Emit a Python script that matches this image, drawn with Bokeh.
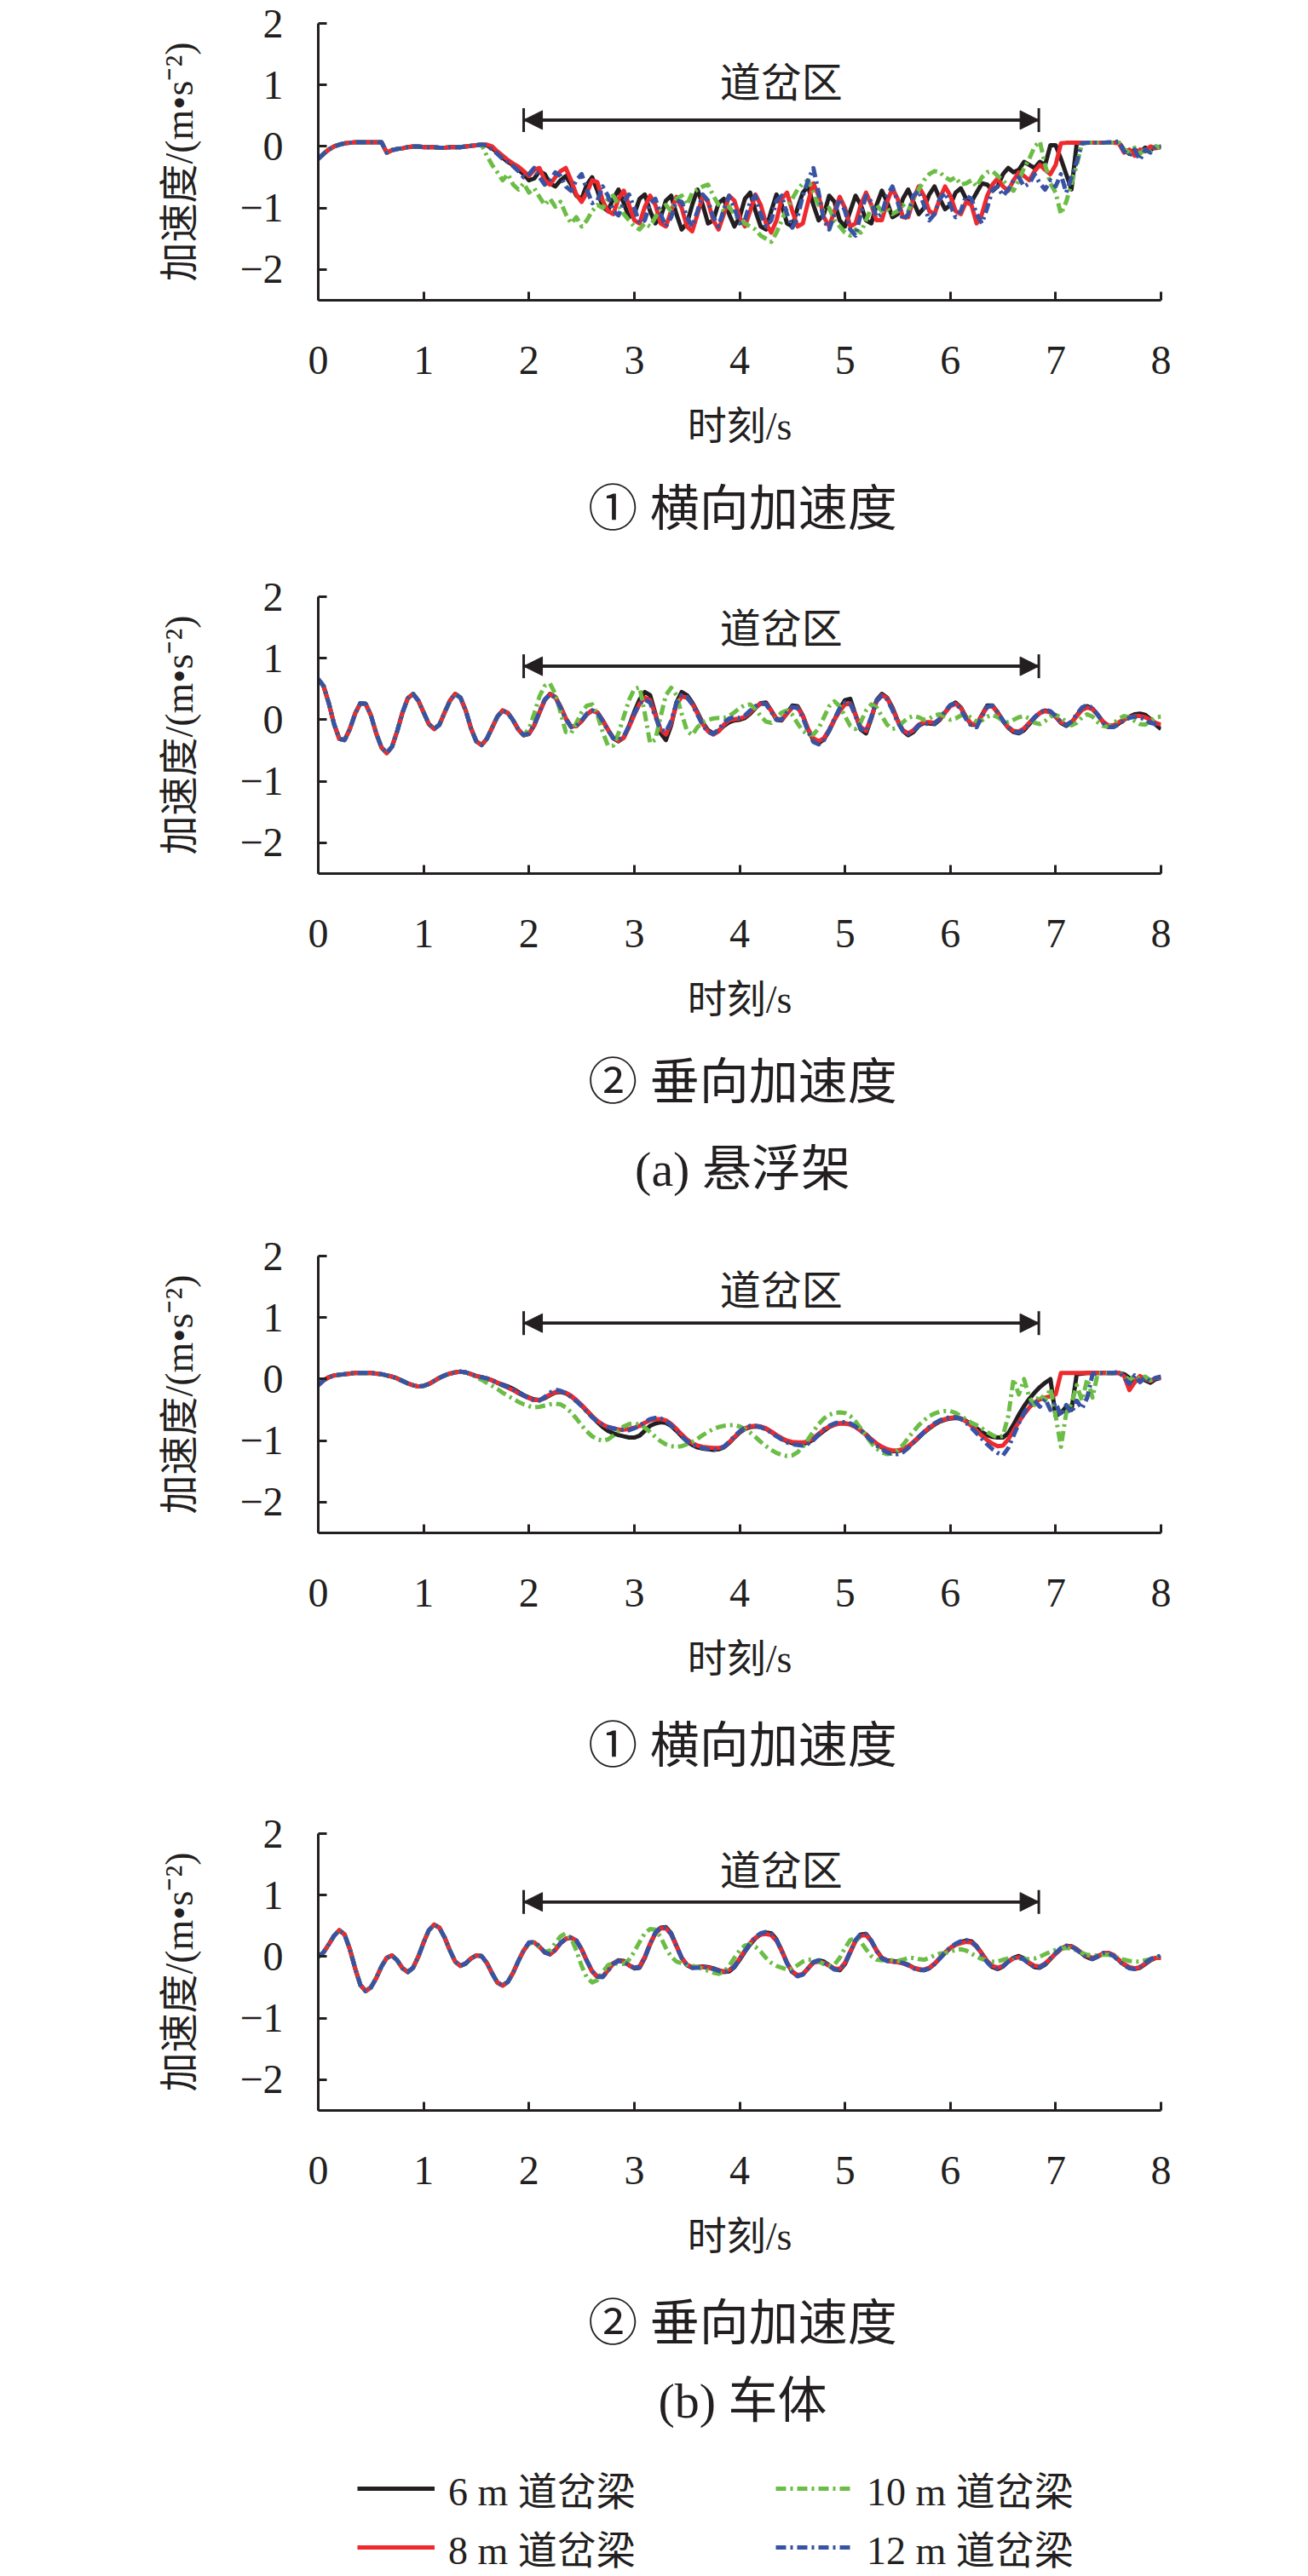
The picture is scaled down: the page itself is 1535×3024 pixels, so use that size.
from bokeh.plotting import figure
from bokeh.layouts import column
from bokeh.models import (Range1d, Label, Arrow, NormalHead, TeeHead, Legend,
                          LegendItem, FixedTicker)
from bokeh.embed import file_html
from bokeh.resources import INLINE

FONT = "Liberation Serif, Noto Sans CJK SC"
INK = "#231f20"
W = 1519
DT = 0.05

SERIES_NAMES = ["6 m 道岔梁", "8 m 道岔梁", "10 m 道岔梁", "12 m 道岔梁"]
X_TICKS = [0, 1, 2, 3, 4, 5, 6, 7, 8]
Y_TICKS = [-2, -1, 0, 1, 2]
Y_TICK_LABELS = {-2: "\u22122", -1: "\u22121", 0: "0", 1: "1", 2: "2"}
ZONE_START, ZONE_END = 1.95, 6.84
ZONE_TEXT = "道岔区"
X_TITLE = "时刻/s"
Y_TITLE = "加速度/(m•s⁻²)"
CAP_LAT = "① 横向加速度"
CAP_VER = "② 垂向加速度"
CAP_A = "(a) 悬浮架"
CAP_B = "(b) 车体"

# ---------------- (a) suspension frame, lateral ----------------
A1_PRE = [-0.20, -0.12, -0.05, 0.00, 0.03, 0.05, 0.06, 0.07, 0.07, 0.07,
          0.07, 0.07, 0.07, -0.10, -0.06, -0.04, -0.03, -0.01, 0.00, 0.00,
          -0.01, -0.01, -0.01, -0.02, -0.02, -0.01, -0.01, -0.01, 0.00, 0.01,
          0.02, 0.03]
A1_6 = [0.02, -0.03, -0.10, -0.18, -0.25, -0.30, -0.38, -0.45, -0.55, -0.52,
        -0.40, -0.45, -0.60, -0.65, -0.55, -0.48, -0.62, -0.80, -0.85, -0.62,
        -0.50, -0.72, -0.98, -1.05, -0.85, -0.70, -0.92, -1.15, -1.10, -0.85,
        -0.78, -1.05, -1.25, -1.15, -0.88, -0.80, -1.10, -1.35, -1.25, -0.95,
        -0.70, -0.95, -1.25, -1.20, -0.92, -0.85, -1.10, -1.30, -1.15, -0.85,
        -0.75, -1.05, -1.30, -1.35, -1.05, -0.78, -0.95, -1.25, -1.30, -1.00,
        -0.75, -0.65, -0.95, -1.20, -1.10, -0.80, -0.90, -1.20, -1.30, -1.05,
        -0.80, -0.95, -1.20, -1.25, -0.95, -0.72, -0.90, -1.15, -1.10, -0.85,
        -0.70, -0.90, -1.10, -1.00, -0.78, -0.65, -0.85, -1.02, -0.95, -0.75,
        -0.68, -0.85, -0.90, -0.75, -0.60, -0.62, -0.72, -0.65, -0.45, -0.35,
        -0.42, -0.38, -0.25, -0.30, -0.35, -0.25, -0.30, 0.02, 0.02, -0.20,
        -0.45, -0.70, 0.05, 0.06, 0.06, 0.06, 0.06, 0.06, 0.06, 0.06,
        0.06, -0.05, -0.12, -0.05, -0.10, -0.02, -0.06, 0.00, -0.02]
A1_8 = [0.03, 0.00, -0.08, -0.15, -0.22, -0.28, -0.33, -0.40, -0.48, -0.38,
        -0.35, -0.55, -0.62, -0.50, -0.40, -0.35, -0.55, -0.78, -0.90, -0.75,
        -0.55, -0.58, -0.88, -1.05, -1.10, -0.85, -0.72, -0.95, -1.20, -1.25,
        -0.98, -0.80, -0.95, -1.25, -1.30, -1.05, -0.82, -1.00, -1.30, -1.38,
        -1.10, -0.80, -0.90, -1.20, -1.35, -1.10, -0.80, -0.88, -1.15, -1.30,
        -1.05, -0.78, -0.95, -1.25, -1.40, -1.20, -0.85, -0.75, -1.05, -1.30,
        -1.25, -0.90, -0.60, -0.80, -1.15, -1.30, -1.05, -0.82, -1.00, -1.30,
        -1.25, -0.95, -0.75, -0.95, -1.20, -1.20, -0.90, -0.68, -0.85, -1.15,
        -1.15, -0.85, -0.65, -0.80, -1.05, -1.10, -0.85, -0.65, -0.80, -1.05,
        -1.10, -0.90, -0.95, -1.25, -1.10, -0.80, -0.62, -0.52, -0.65, -0.72,
        -0.55, -0.42, -0.48, -0.55, -0.40, -0.30, -0.38, -0.45, -0.30, 0.05,
        0.06, 0.06, 0.06, 0.06, 0.06, 0.06, 0.06, 0.06, 0.06, 0.06,
        0.05, -0.10, -0.05, -0.15, -0.05, -0.08, 0.00, -0.03, 0.00]
A1_10 = [-0.15, -0.30, -0.42, -0.55, -0.45, -0.62, -0.70, -0.60, -0.75, -0.68,
         -0.82, -0.95, -0.85, -0.98, -0.90, -1.10, -1.25, -1.15, -1.30, -1.20,
         -1.05, -0.95, -1.00, -0.85, -0.80, -0.95, -1.10, -1.20, -1.30, -1.35,
         -1.25, -1.30, -1.15, -1.00, -0.95, -1.05, -0.85, -0.80, -0.95, -0.75,
         -0.70, -0.65, -0.62, -0.80, -0.95, -1.05, -0.98, -1.10, -1.20, -1.25,
         -1.30, -1.35, -1.45, -1.50, -1.55, -1.40, -1.20, -1.00, -0.85, -0.70,
         -0.60, -0.55, -0.75, -0.95, -1.05, -1.00, -1.20, -1.30, -1.40, -1.45,
         -1.35, -1.40, -1.20, -1.00, -0.95, -1.05, -1.00, -1.10, -1.05, -0.95,
         -1.05, -0.85, -0.70, -0.55, -0.45, -0.40, -0.42, -0.50, -0.55, -0.50,
         -0.62, -0.60, -0.55, -0.65, -0.50, -0.42, -0.40, -0.48, -0.55, -0.65,
         -0.72, -0.55, -0.35, -0.20, 0.00, 0.08, -0.30, -0.60, -0.75, -1.10,
         -0.90, -0.60, -0.30, 0.05, 0.06, 0.06, 0.06, 0.06, 0.06, 0.06,
         0.06, -0.05, -0.10, -0.02, -0.12, -0.05, -0.08, 0.00, -0.02]
A1_12 = [0.02, -0.05, -0.12, -0.20, -0.25, -0.32, -0.40, -0.50, -0.45, -0.35,
         -0.50, -0.62, -0.55, -0.42, -0.48, -0.65, -0.72, -0.55, -0.45, -0.70,
         -0.92, -0.88, -0.65, -0.80, -1.05, -1.12, -0.90, -0.78, -1.00, -1.25,
         -1.20, -0.92, -0.85, -1.10, -1.30, -1.15, -0.88, -0.90, -1.15, -1.30,
         -1.05, -0.78, -0.88, -1.15, -1.30, -1.02, -0.80, -1.00, -1.25, -1.20,
         -0.90, -0.80, -1.10, -1.30, -1.20, -0.88, -0.80, -1.10, -1.32, -1.15,
         -0.80, -0.55, -0.35, -0.75, -1.20, -1.35, -1.10, -0.85, -1.05, -1.35,
         -1.45, -1.10, -0.80, -0.90, -1.15, -1.10, -0.80, -0.65, -0.90, -1.20,
         -1.10, -0.80, -0.72, -0.95, -1.20, -1.10, -0.85, -0.75, -0.95, -1.15,
         -1.05, -0.80, -0.85, -1.10, -1.25, -1.00, -0.70, -0.65, -0.80, -0.70,
         -0.55, -0.50, -0.65, -0.60, -0.45, -0.60, -0.70, -0.55, -0.65, -0.45,
         -0.75, -0.50, -0.25, 0.05, 0.06, 0.06, 0.06, 0.06, 0.07, 0.07,
         0.08, -0.08, -0.15, -0.05, -0.22, -0.05, -0.10, 0.00, 0.00]

# ---------------- (a) suspension frame, vertical ----------------
A2_PRE = [0.66, 0.55, 0.27, -0.07, -0.31, -0.33, -0.15, 0.10, 0.27, 0.26,
          0.07, -0.22, -0.45, -0.54, -0.44, -0.18, 0.12, 0.35, 0.42, 0.31,
          0.12, -0.07, -0.15, -0.08, 0.12, 0.31, 0.42, 0.36, 0.15, -0.14,
          -0.35, -0.41, -0.31, -0.13, 0.05, 0.15, 0.11, -0.01, -0.16, -0.25]
A2_6 = [-0.23, -0.09, 0.12, 0.32, 0.42, 0.37, 0.21, 0.02, -0.11, -0.10,
        -0.02, 0.09, 0.15, 0.12, -0.01, -0.16, -0.30, -0.35, -0.29, -0.10,
        0.13, 0.33, 0.45, 0.40, 0.10, -0.22, -0.33, -0.09, 0.28, 0.45,
        0.40, 0.28, 0.12, -0.05, -0.17, -0.22, -0.18, -0.10, -0.04, -0.01,
        0.00, 0.03, 0.10, 0.19, 0.27, 0.28, 0.15, 0.00, -0.01, 0.11,
        0.23, 0.22, 0.07, -0.16, -0.33, -0.38, -0.32, -0.18, 0.00, 0.18,
        0.32, 0.34, 0.08, -0.16, -0.22, 0.02, 0.32, 0.42, 0.36, 0.20,
        -0.01, -0.18, -0.25, -0.20, -0.10, -0.05, -0.06, -0.07, 0.00, 0.12,
        0.23, 0.28, 0.20, 0.04, -0.08, -0.08, 0.08, 0.23, 0.23, 0.12,
        -0.02, -0.13, -0.20, -0.22, -0.17, -0.07, 0.03, 0.11, 0.15, 0.13,
        0.05, -0.05, -0.10, -0.05, 0.07, 0.18, 0.22, 0.18, 0.08, -0.04,
        -0.11, -0.11, -0.06, 0.00, 0.05, 0.09, 0.10, 0.08, 0.01, -0.08,
        -0.15]
A2_8 = [-0.23, -0.09, 0.12, 0.32, 0.41, 0.37, 0.21, 0.02, -0.11, -0.10,
        -0.02, 0.09, 0.15, 0.12, -0.01, -0.16, -0.29, -0.34, -0.29, -0.12,
        0.08, 0.26, 0.36, 0.32, 0.08, -0.16, -0.24, -0.06, 0.24, 0.38,
        0.36, 0.26, 0.10, -0.07, -0.19, -0.24, -0.19, -0.08, -0.01, 0.01,
        0.02, 0.05, 0.12, 0.20, 0.26, 0.26, 0.15, 0.02, 0.00, 0.10,
        0.20, 0.20, 0.06, -0.15, -0.30, -0.35, -0.30, -0.16, 0.00, 0.14,
        0.25, 0.26, 0.08, -0.12, -0.18, 0.04, 0.30, 0.40, 0.35, 0.18,
        -0.02, -0.17, -0.22, -0.17, -0.08, -0.04, -0.04, -0.05, 0.01, 0.12,
        0.22, 0.26, 0.19, 0.04, -0.07, -0.07, 0.07, 0.21, 0.22, 0.11,
        -0.02, -0.12, -0.18, -0.19, -0.14, -0.05, 0.04, 0.11, 0.14, 0.12,
        0.05, -0.04, -0.08, -0.04, 0.06, 0.16, 0.20, 0.17, 0.08, -0.03,
        -0.09, -0.09, -0.04, 0.01, 0.04, 0.06, 0.06, 0.04, 0.00, -0.05,
        -0.08]
A2_10 = [-0.15, 0.10, 0.38, 0.55, 0.59, 0.42, 0.12, -0.20, -0.22, -0.05,
         0.12, 0.23, 0.25, 0.08, -0.20, -0.42, -0.42, -0.22, 0.05, 0.32,
         0.50, 0.53, 0.10, -0.38, -0.32, 0.05, 0.40, 0.52, 0.40, 0.10,
         -0.18, -0.25, -0.12, -0.04, 0.00, 0.02, 0.03, 0.03, 0.06, 0.12,
         0.19, 0.24, 0.25, 0.18, 0.06, -0.03, -0.05, 0.03, 0.12, 0.15,
         0.08, -0.06, -0.18, -0.24, -0.24, -0.14, 0.04, 0.22, 0.30, 0.22,
         0.06, -0.10, -0.15, -0.04, 0.15, 0.25, 0.20, 0.06, -0.08, -0.15,
         -0.13, -0.04, 0.03, 0.06, 0.04, 0.00, 0.02, 0.07, 0.09, 0.05,
         0.00, 0.02, 0.07, 0.08, 0.03, -0.03, -0.01, 0.05, 0.08, 0.04,
         -0.02, -0.04, 0.00, 0.04, 0.06, 0.02, -0.05, -0.07, -0.02, 0.05,
         0.08, 0.04, -0.04, -0.09, -0.05, 0.04, 0.09, 0.05, -0.04, -0.10,
         -0.12, -0.06, 0.02, 0.06, 0.04, -0.02, -0.07, -0.08, -0.02, 0.04,
         0.05]
A2_12 = [-0.22, -0.08, 0.13, 0.33, 0.41, 0.36, 0.20, 0.01, -0.12, -0.10,
         -0.01, 0.10, 0.15, 0.11, -0.02, -0.17, -0.30, -0.33, -0.27, -0.10,
         0.10, 0.26, 0.33, 0.28, 0.05, -0.15, -0.20, -0.02, 0.27, 0.40,
         0.37, 0.25, 0.08, -0.09, -0.20, -0.23, -0.16, -0.05, 0.02, 0.04,
         0.03, 0.07, 0.15, 0.22, 0.27, 0.25, 0.13, 0.00, 0.01, 0.12,
         0.21, 0.19, 0.03, -0.19, -0.36, -0.40, -0.33, -0.17, 0.02, 0.18,
         0.28, 0.27, 0.06, -0.15, -0.19, 0.05, 0.31, 0.39, 0.33, 0.16,
         -0.04, -0.18, -0.23, -0.18, -0.09, -0.06, -0.07, -0.06, 0.02, 0.14,
         0.24, 0.27, 0.17, 0.01, -0.10, -0.12, 0.05, 0.21, 0.23, 0.12,
         -0.01, -0.12, -0.19, -0.21, -0.16, -0.06, 0.04, 0.12, 0.16, 0.14,
         0.06, -0.04, -0.09, -0.03, 0.09, 0.20, 0.24, 0.19, 0.08, -0.05,
         -0.12, -0.12, -0.07, -0.01, 0.03, 0.05, 0.04, 0.00, -0.05, -0.07,
         -0.06]

# ---------------- (b) car body, lateral ----------------
B1_PRE = [-0.10, -0.02, 0.03, 0.06, 0.07, 0.08, 0.09, 0.10, 0.10, 0.10,
          0.10, 0.09, 0.08, 0.06, 0.04, 0.01, -0.03, -0.07, -0.10, -0.12,
          -0.11, -0.08, -0.03, 0.02, 0.06, 0.09, 0.11, 0.12, 0.11, 0.08]
B1_6 = [0.05, 0.03, 0.01, -0.02, -0.06, -0.09, -0.12, -0.16, -0.21, -0.26,
        -0.30, -0.33, -0.34, -0.31, -0.26, -0.22, -0.21, -0.23, -0.28, -0.35,
        -0.43, -0.52, -0.61, -0.70, -0.78, -0.84, -0.88, -0.91, -0.93, -0.95,
        -0.95, -0.92, -0.84, -0.76, -0.72, -0.70, -0.71, -0.76, -0.84, -0.93,
        -1.01, -1.07, -1.11, -1.13, -1.14, -1.15, -1.14, -1.11, -1.04, -0.95,
        -0.87, -0.81, -0.78, -0.77, -0.78, -0.81, -0.86, -0.92, -0.97, -1.01,
        -1.04, -1.05, -1.05, -1.03, -0.98, -0.91, -0.84, -0.78, -0.74, -0.72,
        -0.72, -0.73, -0.77, -0.83, -0.90, -0.98, -1.05, -1.11, -1.15, -1.17,
        -1.17, -1.15, -1.10, -1.03, -0.95, -0.87, -0.80, -0.74, -0.69, -0.66,
        -0.64, -0.63, -0.64, -0.68, -0.74, -0.80, -0.86, -0.91, -0.94, -0.95,
        -0.95, -0.88, -0.74, -0.58, -0.44, -0.32, -0.22, -0.13, -0.06, 0.00,
        -0.60, -0.55, -0.45, -0.50, 0.08, 0.09, 0.10, 0.10, 0.10, 0.10,
        0.10, 0.10, 0.10, 0.08, 0.02, -0.05, 0.04, -0.02, -0.06, 0.00,
        0.02]
B1_8 = [0.05, 0.03, 0.01, -0.02, -0.06, -0.10, -0.14, -0.18, -0.23, -0.27,
        -0.31, -0.34, -0.34, -0.30, -0.25, -0.21, -0.20, -0.22, -0.27, -0.34,
        -0.42, -0.51, -0.60, -0.68, -0.74, -0.78, -0.80, -0.82, -0.82, -0.81,
        -0.79, -0.76, -0.71, -0.67, -0.65, -0.65, -0.67, -0.73, -0.81, -0.90,
        -0.98, -1.04, -1.08, -1.10, -1.11, -1.12, -1.12, -1.10, -1.03, -0.94,
        -0.86, -0.80, -0.77, -0.76, -0.77, -0.80, -0.85, -0.91, -0.96, -1.00,
        -1.02, -1.03, -1.03, -1.01, -0.96, -0.89, -0.82, -0.77, -0.74, -0.72,
        -0.72, -0.74, -0.78, -0.84, -0.91, -0.98, -1.05, -1.10, -1.14, -1.16,
        -1.16, -1.14, -1.09, -1.02, -0.94, -0.86, -0.79, -0.73, -0.68, -0.65,
        -0.63, -0.62, -0.64, -0.69, -0.76, -0.84, -0.92, -0.99, -1.05, -1.09,
        -1.08, -0.98, -0.84, -0.70, -0.57, -0.46, -0.38, -0.33, -0.30, -0.28,
        -0.25, 0.10, 0.10, 0.10, 0.10, 0.10, 0.10, 0.10, 0.10, 0.10,
        0.10, 0.10, 0.10, 0.05, -0.18, -0.05, 0.05, 0.00, -0.03, 0.02,
        0.02]
B1_10 = [0.03, -0.01, -0.06, -0.11, -0.16, -0.22, -0.27, -0.32, -0.37, -0.41,
         -0.44, -0.46, -0.45, -0.43, -0.41, -0.40, -0.41, -0.46, -0.54, -0.64,
         -0.75, -0.85, -0.93, -0.98, -1.00, -0.98, -0.92, -0.84, -0.77, -0.73,
         -0.72, -0.74, -0.79, -0.86, -0.94, -1.01, -1.06, -1.09, -1.10, -1.09,
         -1.06, -1.02, -0.97, -0.91, -0.86, -0.81, -0.78, -0.76, -0.75, -0.75,
         -0.77, -0.81, -0.87, -0.94, -1.02, -1.09, -1.15, -1.20, -1.23, -1.25,
         -1.24, -1.19, -1.10, -0.98, -0.85, -0.73, -0.64, -0.58, -0.55, -0.54,
         -0.55, -0.60, -0.69, -0.80, -0.92, -1.04, -1.13, -1.19, -1.22, -1.21,
         -1.16, -1.07, -0.96, -0.85, -0.75, -0.67, -0.60, -0.56, -0.53, -0.52,
         -0.52, -0.55, -0.60, -0.66, -0.71, -0.75, -0.80, -0.86, -0.91, -0.95,
         -0.92, -0.60, 0.00, -0.25, 0.00, -0.30, -0.42, -0.25, -0.35, -0.15,
         -0.60, -1.10, -0.55, -0.40, -0.10, -0.35, 0.00, -0.30, 0.10, 0.10,
         0.10, 0.10, 0.10, 0.06, -0.02, 0.05, 0.00, 0.04, -0.02, 0.02,
         0.02]
B1_12 = [0.05, 0.03, 0.01, -0.02, -0.06, -0.10, -0.13, -0.17, -0.22, -0.27,
         -0.31, -0.35, -0.35, -0.29, -0.22, -0.17, -0.19, -0.23, -0.29, -0.36,
         -0.44, -0.53, -0.62, -0.69, -0.74, -0.78, -0.80, -0.82, -0.83, -0.83,
         -0.80, -0.76, -0.70, -0.65, -0.63, -0.64, -0.68, -0.75, -0.84, -0.93,
         -1.01, -1.06, -1.10, -1.12, -1.14, -1.15, -1.14, -1.10, -1.02, -0.93,
         -0.85, -0.79, -0.76, -0.76, -0.78, -0.82, -0.87, -0.93, -0.98, -1.03,
         -1.06, -1.07, -1.08, -1.05, -0.99, -0.90, -0.82, -0.76, -0.72, -0.70,
         -0.70, -0.72, -0.77, -0.84, -0.92, -1.00, -1.08, -1.14, -1.19, -1.22,
         -1.22, -1.19, -1.12, -1.03, -0.94, -0.86, -0.78, -0.72, -0.67, -0.64,
         -0.62, -0.62, -0.65, -0.71, -0.79, -0.88, -0.97, -1.06, -1.14, -1.20,
         -1.24, -1.12, -0.92, -0.72, -0.55, -0.42, -0.35, -0.45, -0.32, -0.50,
         -0.38, -0.60, -0.42, -0.55, -0.35, -0.48, -0.30, 0.08, 0.10, 0.10,
         0.10, 0.10, 0.12, 0.02, -0.08, 0.06, -0.05, 0.03, -0.04, 0.02,
         0.04]

# ---------------- (b) car body, vertical ----------------
B2_PRE = [0.00, 0.07, 0.20, 0.34, 0.43, 0.36, 0.12, -0.19, -0.46, -0.56,
          -0.50, -0.35, -0.16, -0.02, 0.02, -0.06, -0.19, -0.25, -0.18, 0.00,
          0.23, 0.43, 0.52, 0.47, 0.31, 0.10, -0.08, -0.15, -0.11, -0.03,
          0.02, 0.01, -0.10, -0.27, -0.42, -0.47, -0.41, -0.26, -0.07, 0.10]
B2_6 = [0.22, 0.23, 0.16, 0.07, 0.04, 0.11, 0.22, 0.29, 0.31, 0.26,
        0.12, -0.07, -0.24, -0.33, -0.33, -0.22, -0.11, -0.06, -0.07, -0.14,
        -0.19, -0.18, -0.02, 0.20, 0.38, 0.47, 0.48, 0.38, 0.18, -0.02,
        -0.14, -0.18, -0.17, -0.16, -0.17, -0.19, -0.22, -0.25, -0.24, -0.17,
        -0.05, 0.08, 0.20, 0.30, 0.36, 0.39, 0.38, 0.28, 0.10, -0.10,
        -0.25, -0.31, -0.29, -0.19, -0.09, -0.06, -0.08, -0.14, -0.20, -0.22,
        -0.12, 0.07, 0.26, 0.36, 0.37, 0.26, 0.10, -0.02, -0.06, -0.07,
        -0.08, -0.10, -0.13, -0.18, -0.21, -0.22, -0.19, -0.12, -0.03, 0.06,
        0.14, 0.20, 0.24, 0.26, 0.25, 0.17, 0.05, -0.08, -0.17, -0.20,
        -0.16, -0.08, -0.02, 0.01, -0.03, -0.11, -0.17, -0.18, -0.13, -0.04,
        0.05, 0.13, 0.17, 0.17, 0.12, 0.05, -0.01, -0.04, 0.00, 0.05,
        0.06, 0.02, -0.06, -0.13, -0.18, -0.20, -0.18, -0.12, -0.06, -0.02,
        -0.01]
B2_8 = [0.22, 0.23, 0.16, 0.07, 0.04, 0.11, 0.22, 0.29, 0.31, 0.26,
        0.12, -0.07, -0.24, -0.32, -0.32, -0.22, -0.11, -0.07, -0.08, -0.14,
        -0.18, -0.16, 0.00, 0.21, 0.38, 0.46, 0.46, 0.36, 0.17, -0.02,
        -0.13, -0.17, -0.17, -0.17, -0.18, -0.20, -0.22, -0.24, -0.22, -0.15,
        -0.03, 0.10, 0.22, 0.31, 0.36, 0.37, 0.35, 0.26, 0.09, -0.10,
        -0.24, -0.30, -0.28, -0.19, -0.10, -0.08, -0.10, -0.15, -0.19, -0.20,
        -0.10, 0.08, 0.25, 0.34, 0.35, 0.25, 0.10, -0.02, -0.07, -0.08,
        -0.09, -0.11, -0.14, -0.18, -0.20, -0.21, -0.18, -0.11, -0.02, 0.07,
        0.14, 0.19, 0.22, 0.24, 0.23, 0.16, 0.05, -0.07, -0.15, -0.18,
        -0.15, -0.08, -0.03, -0.01, -0.04, -0.10, -0.15, -0.16, -0.11, -0.03,
        0.05, 0.12, 0.16, 0.16, 0.12, 0.06, 0.01, -0.02, 0.01, 0.05,
        0.06, 0.03, -0.05, -0.12, -0.17, -0.19, -0.17, -0.11, -0.05, -0.02,
        -0.02]
B2_10 = [0.22, 0.23, 0.15, 0.08, 0.10, 0.22, 0.33, 0.38, 0.30, 0.10,
         -0.15, -0.34, -0.42, -0.38, -0.25, -0.14, -0.10, -0.12, -0.12, -0.05,
         0.08, 0.24, 0.38, 0.45, 0.44, 0.32, 0.14, 0.00, -0.08, -0.11,
         -0.13, -0.15, -0.17, -0.20, -0.23, -0.26, -0.28, -0.25, -0.15, -0.02,
         0.10, 0.18, 0.20, 0.16, 0.08, -0.02, -0.10, -0.15, -0.18, -0.21,
         -0.20, -0.14, -0.08, -0.05, -0.05, -0.08, -0.12, -0.15, -0.13, -0.02,
         0.14, 0.27, 0.30, 0.24, 0.12, 0.01, -0.05, -0.06, -0.05, -0.06,
         -0.07, -0.05, -0.02, -0.02, -0.04, -0.05, -0.02, 0.02, 0.05, 0.06,
         0.08, 0.11, 0.12, 0.10, 0.05, 0.00, -0.04, -0.06, -0.08, -0.08,
         -0.05, -0.03, -0.02, -0.03, -0.04, -0.04, -0.03, 0.00, 0.04, 0.08,
         0.11, 0.13, 0.14, 0.13, 0.10, 0.06, 0.03, 0.02, 0.02, 0.03,
         0.03, 0.01, -0.02, -0.05, -0.07, -0.08, -0.08, -0.06, -0.04, -0.01,
         0.01]
B2_12 = [0.23, 0.24, 0.17, 0.07, 0.04, 0.11, 0.22, 0.29, 0.31, 0.26,
         0.12, -0.07, -0.23, -0.32, -0.33, -0.23, -0.12, -0.07, -0.08, -0.14,
         -0.18, -0.17, -0.01, 0.21, 0.39, 0.48, 0.47, 0.37, 0.17, -0.02,
         -0.14, -0.18, -0.18, -0.17, -0.18, -0.20, -0.23, -0.25, -0.23, -0.16,
         -0.04, 0.09, 0.22, 0.32, 0.38, 0.40, 0.37, 0.27, 0.09, -0.11,
         -0.26, -0.32, -0.29, -0.19, -0.09, -0.06, -0.09, -0.15, -0.21, -0.22,
         -0.11, 0.08, 0.27, 0.37, 0.37, 0.26, 0.09, -0.03, -0.07, -0.08,
         -0.09, -0.10, -0.14, -0.19, -0.22, -0.22, -0.19, -0.12, -0.03, 0.07,
         0.15, 0.21, 0.25, 0.27, 0.25, 0.16, 0.03, -0.09, -0.18, -0.20,
         -0.16, -0.08, -0.02, 0.00, -0.05, -0.12, -0.17, -0.17, -0.12, -0.03,
         0.06, 0.14, 0.18, 0.17, 0.11, 0.04, -0.02, -0.04, 0.01, 0.06,
         0.06, 0.01, -0.07, -0.14, -0.19, -0.20, -0.17, -0.10, -0.04, 0.00,
         0.01]

STYLES = [
    dict(line_color=INK, line_width=5),
    dict(line_color="#ee2a2e", line_width=5),
    dict(line_color="#6cbd45", line_width=5, line_dash="12 5 3 5"),
    dict(line_color="#3953a4", line_width=5, line_dash="12 5 3 5"),
]

FRAME_LEFT = 373
FRAME_W = 989
FRAME_H = 325
CAP_X = 871


def bare(height):
    s = figure(width=W, height=height,
               x_range=Range1d(FRAME_LEFT, FRAME_LEFT + FRAME_W),
               y_range=Range1d(0, height), min_border_left=FRAME_LEFT,
               min_border_right=W - FRAME_LEFT - FRAME_W, min_border_top=0,
               min_border_bottom=0, x_axis_location=None,
               y_axis_location=None, output_backend="svg",
               toolbar_location=None)
    s.outline_line_color = None
    s.xgrid.visible = False
    s.ygrid.visible = False
    s.background_fill_color = "white"
    s.border_fill_color = "white"
    return s


def strip(height, labels):
    s = bare(height)
    for txt, y in labels:
        s.add_layout(Label(x=CAP_X, y=y, text=txt, text_align="center",
                           text_baseline="middle", text_font=FONT,
                           text_font_size="58px", text_color=INK))
    return s


def chart(height, top, pre, posts, arrow_y, text_y):
    p = figure(width=W, height=height, x_range=Range1d(0, 8),
               y_range=Range1d(-2.5, 2), output_backend="svg",
               toolbar_location=None, min_border_left=FRAME_LEFT,
               min_border_right=W - FRAME_LEFT - FRAME_W, min_border_top=top,
               min_border_bottom=height - top - FRAME_H)
    p.outline_line_color = None
    p.grid.visible = False
    p.background_fill_color = "white"
    p.border_fill_color = "white"
    p.xaxis.ticker = FixedTicker(ticks=X_TICKS)
    p.yaxis.ticker = FixedTicker(ticks=Y_TICKS)
    p.yaxis.major_label_overrides = Y_TICK_LABELS
    for ax in (p.xaxis, p.yaxis):
        ax.axis_line_color = INK
        ax.axis_line_width = 3
        ax.major_tick_line_color = INK
        ax.major_tick_line_width = 3
        ax.major_tick_in = 10
        ax.major_tick_out = 0
        ax.minor_tick_line_color = None
        ax.major_label_text_font = FONT
        ax.major_label_text_font_size = "48px"
        ax.major_label_text_color = INK
        ax.axis_label_text_font = FONT
        ax.axis_label_text_font_style = "normal"
        ax.axis_label_text_color = INK
    p.xaxis.major_label_standoff = 54
    p.yaxis.major_label_standoff = 41
    p.xaxis.axis_label = X_TITLE
    p.xaxis.axis_label_text_font_size = "46px"
    p.xaxis.axis_label_standoff = 33
    p.yaxis.axis_label = Y_TITLE
    p.yaxis.axis_label_text_font_size = "46px"
    p.yaxis.axis_label_standoff = 42

    for k in range(4):
        ys = pre + posts[k]
        ts = [round(i * DT, 2) for i in range(len(ys))]
        p.line(ts, ys, line_join="round", **STYLES[k])

    p.add_layout(Arrow(x_start=ZONE_START, y_start=arrow_y, x_end=ZONE_END,
                       y_end=arrow_y, line_color=INK, line_width=3.5,
                       start=NormalHead(size=22, fill_color=INK, line_color=INK, line_width=1),
                       end=NormalHead(size=22, fill_color=INK, line_color=INK, line_width=1)))
    p.add_layout(Arrow(x_start=ZONE_START, y_start=arrow_y, x_end=ZONE_END,
                       y_end=arrow_y, line_color=INK, line_width=3.5,
                       start=TeeHead(size=28, line_color=INK, line_width=3),
                       end=TeeHead(size=28, line_color=INK, line_width=3)))
    p.add_layout(Label(x=(ZONE_START + ZONE_END) / 2, y=text_y, text=ZONE_TEXT,
                       text_align="center", text_baseline="middle",
                       text_font=FONT, text_font_size="48px", text_color=INK))
    return p


p1 = chart(564, 27, A1_PRE, [A1_6, A1_8, A1_10, A1_12], 0.43, 1.03)
c1 = strip(86, [(CAP_LAT, 53)])
p2 = chart(580, 50, A2_PRE, [A2_6, A2_8, A2_10, A2_12], 0.87, 1.48)
c2 = strip(200, [(CAP_VER, 160), (CAP_A, 58)])
p3 = chart(580, 44, B1_PRE, [B1_6, B1_8, B1_10, B1_12], 0.91, 1.43)
c3 = strip(90, [(CAP_LAT, 51)])
p4 = chart(580, 52, B2_PRE, [B2_6, B2_8, B2_10, B2_12], 0.89, 1.39)
c4 = strip(180, [(CAP_VER, 133), (CAP_B, 42)])

# ---------------- legend strip ----------------
lp = bare(163)
# legend renderers carry one off-screen segment so that their swatches draw
rs = [lp.line([-1000, -999], [-1000, -1000], **STYLES[k]) for k in range(4)]


def legend(items, loc):
    return Legend(items=items, location=loc, orientation="vertical",
                  label_text_font=FONT, label_text_font_size="46px",
                  label_text_color=INK, glyph_width=91, glyph_height=50,
                  label_height=50, label_standoff=16, spacing=3, padding=0,
                  margin=0, border_line_color=None, background_fill_alpha=0)


lp.add_layout(legend([LegendItem(label=SERIES_NAMES[0], renderers=[rs[0]]),
                      LegendItem(label=SERIES_NAMES[1], renderers=[rs[1]])],
                     (419 - FRAME_LEFT, 0)))
lp.add_layout(legend([LegendItem(label=SERIES_NAMES[2], renderers=[rs[2]]),
                      LegendItem(label=SERIES_NAMES[3], renderers=[rs[3]])],
                     (910 - FRAME_LEFT, 0)))

layout = column(p1, c1, p2, c2, p3, c3, p4, c4, lp, spacing=0)
open("out.html", "w").write(file_html(layout, INLINE))
